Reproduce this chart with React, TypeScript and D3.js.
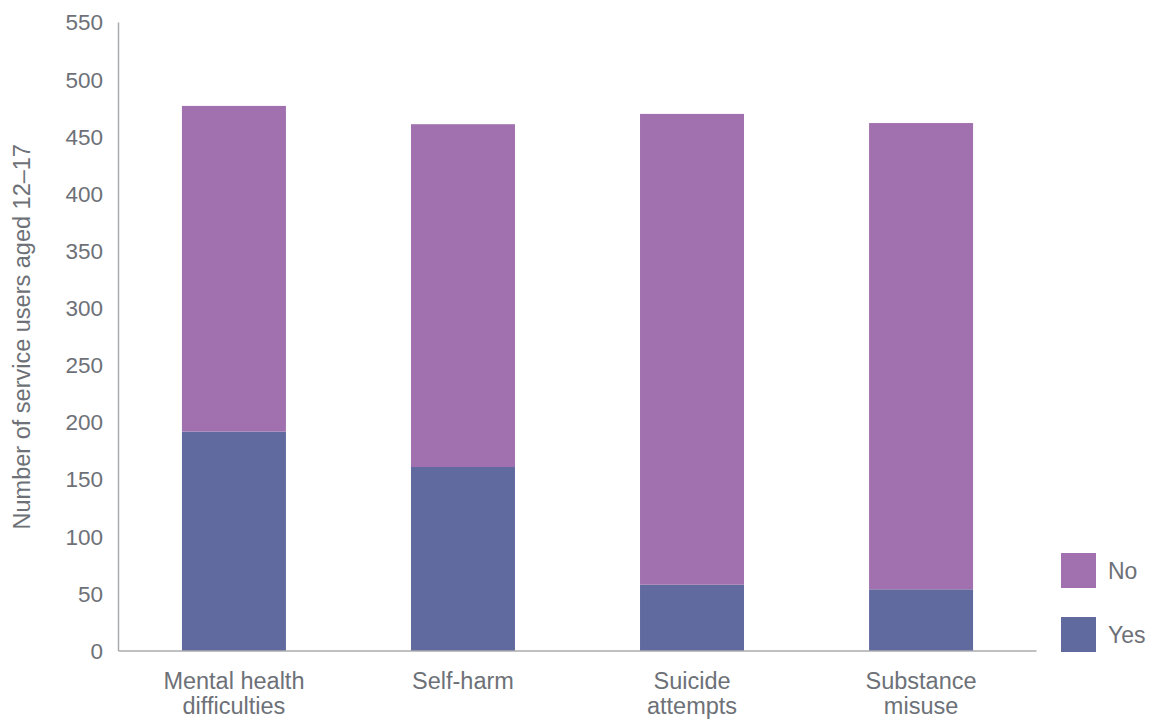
import React from "react";
import * as d3 from "d3";

const categories: string[][] = [
  ["Mental health", "difficulties"],
  ["Self-harm"],
  ["Suicide", "attempts"],
  ["Substance", "misuse"],
];
const categoryKeys = ["Mental health difficulties", "Self-harm", "Suicide attempts", "Substance misuse"];
const yesValues = [192, 161, 58, 54];
const noValues = [285, 300, 412, 408];
const yTicks = [0, 50, 100, 150, 200, 250, 300, 350, 400, 450, 500, 550];
const seriesNames = ["No", "Yes"];
const colors: Record<string, string> = { No: "#A170AE", Yes: "#606A9F" };

const W = 1149;
const H = 719;
const FONT = "'Liberation Sans', Arial, Helvetica, sans-serif";
const TEXT = "#6d7177";

export default function App() {
  const x = d3
    .scaleBand<string>()
    .domain(categoryKeys)
    .range([118.5, 1036.5])
    .paddingInner(0.546)
    .paddingOuter(0.277);
  const y = d3.scaleLinear().domain([0, 550]).range([651, 22.5]);

  const rows = categoryKeys.map((k, i) => ({ key: k, Yes: yesValues[i], No: noValues[i] }));
  const stack = d3.stack<any>().keys(["Yes", "No"]);
  const series = stack(rows);

  return (
    <svg width={W} height={H} style={{ position: "absolute", left: 0, top: 0 }}>
      <rect x={0} y={0} width={W} height={H} fill="#fff" />
      {series.map((s) => (
        <g key={s.key} fill={colors[s.key]}>
          {s.map((d, i) => (
            <rect
              key={i}
              x={x(categoryKeys[i])}
              y={y(d[1])}
              width={x.bandwidth()}
              height={y(d[0]) - y(d[1])}
            />
          ))}
        </g>
      ))}
      <line x1={118.5} x2={118.5} y1={y(550)} y2={y(0)} stroke="#a9abae" strokeWidth={1.5} />
      <line x1={118.5} x2={1036.5} y1={y(0)} y2={y(0)} stroke="#a9abae" strokeWidth={1.5} />
      {yTicks.map((t) => (
        <text
          key={t}
          x={103}
          y={y(t)}
          dy="0.35em"
          textAnchor="end"
          fontFamily={FONT}
          fontSize={22.5}
          fill={TEXT}
        >
          {t}
        </text>
      ))}
      {categoryKeys.map((k, i) => (
        <text
          key={k}
          x={(x(k) as number) + x.bandwidth() / 2}
          y={689}
          textAnchor="middle"
          fontFamily={FONT}
          fontSize={23.5}
          fill={TEXT}
        >
          {categories[i].map((line, j) => (
            <tspan key={j} x={(x(k) as number) + x.bandwidth() / 2} dy={j === 0 ? 0 : 25}>
              {line}
            </tspan>
          ))}
        </text>
      ))}
      <text
        transform={`translate(30, ${(y(0) + y(550)) / 2}) rotate(-90)`}
        textAnchor="middle"
        fontFamily={FONT}
        fontSize={23.5}
        fill={TEXT}
      >
        Number of service users aged 12–17
      </text>
      {seriesNames.map((n, i) => (
        <g key={n} transform={`translate(1061, ${553 + i * 64})`}>
          <rect x={0} y={0} width={35} height={35} fill={colors[n]} />
          <text x={47} y={17.5} dy="0.35em" fontFamily={FONT} fontSize={23} fill={TEXT}>
            {n}
          </text>
        </g>
      ))}
    </svg>
  );
}
